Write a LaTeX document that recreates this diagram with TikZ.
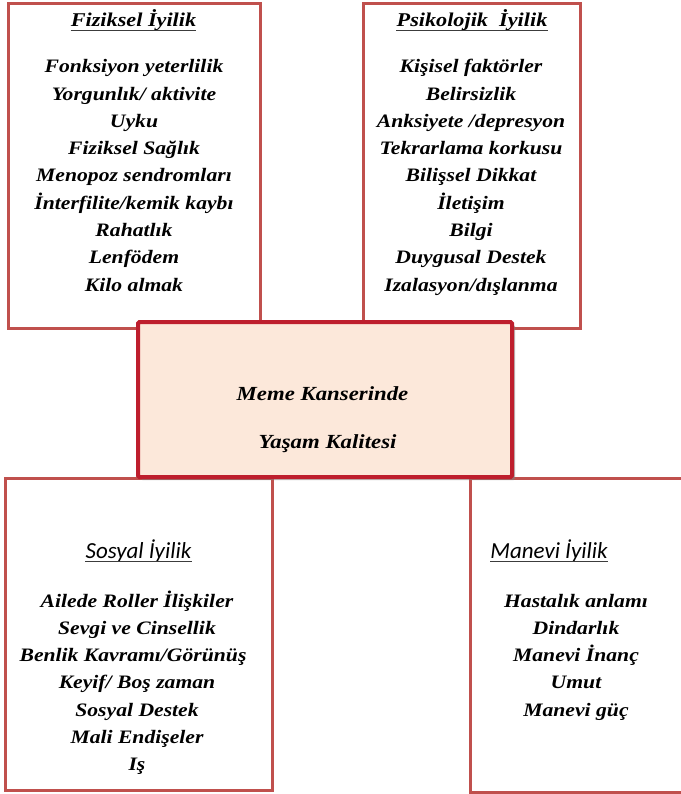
\documentclass[tikz,border=0pt]{standalone}
\usepackage{fontspec}
\setmainfont{Liberation Serif}[FakeStretch=1.14]
\newfontfamily\headsans{Carlito}
\usetikzlibrary{shadows}
\definecolor{boxred}{RGB}{192,80,77}
\definecolor{corered}{RGB}{190,30,45}
\definecolor{corefill}{RGB}{252,232,218}
\definecolor{ulgray}{RGB}{60,60,60}
\tikzset{
  outerbox/.style={draw=boxred,line width=3pt,inner sep=0pt},
  corebox/.style={draw=corered,line width=4pt,fill=corefill,inner sep=0pt,rounded corners=1.5pt,
    drop shadow={shadow xshift=3pt,shadow yshift=-3pt,opacity=0.55}},
  item/.style={font=\fontsize{19}{23}\selectfont\bfseries\itshape,inner sep=0pt,anchor=base},
  serifhead/.style={font=\fontsize{19.5}{23}\selectfont\bfseries\itshape,inner sep=0pt,anchor=base},
  sanshead/.style={font=\fontsize{23}{27}\headsans\itshape,inner sep=0pt,anchor=base},
  corelabel/.style={font=\fontsize{20}{24}\selectfont\bfseries\itshape,inner sep=0pt,anchor=base},
  headline/.style={draw=ulgray,line width=1.3pt}
}
\begin{document}
\begin{tikzpicture}[x=1pt,y=-1pt]
\useasboundingbox (0,0) rectangle (680,794);
\node[outerbox,minimum width=252pt,minimum height=324pt] (fizbox) at (134,166) {};
\node[outerbox,minimum width=217pt,minimum height=324pt] (psibox) at (471.5,166) {};
\node[outerbox,minimum width=267pt,minimum height=312pt] (sosbox) at (138.5,634) {};
\node[outerbox,minimum width=230pt,minimum height=314pt] (manbox) at (585,635) {};
\node[corebox,minimum width=374pt,minimum height=155pt] (core) at (325,399.5) {};

% Fiziksel
\path (133.5,27) node[serifhead] (fizhead) {Fiziksel İyilik};
\draw[headline] ([yshift=-3.5pt]fizhead.base west) -- ([yshift=-3.5pt]fizhead.base east);
\path (134,73) node[item] (fiz1) {Fonksiyon yeterlilik};
\path (134,100.25) node[item] (fiz2) {Yorgunlık/ aktivite};
\path (134,127.5) node[item] (fiz3) {Uyku};
\path (134,154.75) node[item] (fiz4) {Fiziksel Sağlık};
\path (134,182) node[item] (fiz5) {Menopoz sendromları};
\path (134,209.25) node[item] (fiz6) {İnterfilite/kemik kaybı};
\path (134,236.5) node[item] (fiz7) {Rahatlık};
\path (134,263.75) node[item] (fiz8) {Lenfödem};
\path (134,291) node[item] (fiz9) {Kilo almak};

% Psikolojik
\path (472,27) node[serifhead] (psihead) {Psikolojik~ İyilik};
\draw[headline] ([yshift=-3.5pt]psihead.base west) -- ([yshift=-3.5pt]psihead.base east);
\path (471,73) node[item] (psi1) {Kişisel faktörler};
\path (471,100.25) node[item] (psi2) {Belirsizlik};
\path (471,127.5) node[item] (psi3) {Anksiyete /depresyon};
\path (471,154.75) node[item] (psi4) {Tekrarlama korkusu};
\path (471,182) node[item] (psi5) {Bilişsel Dikkat};
\path (471,209.25) node[item] (psi6) {İletişim};
\path (471,236.5) node[item] (psi7) {Bilgi};
\path (471,263.75) node[item] (psi8) {Duygusal Destek};
\path (471,291) node[item] (psi9) {Izalasyon/dışlanma};

% merkez
\path (322.5,400) node[corelabel] (core1) {Meme Kanserinde};
\path (327.5,448) node[corelabel] (core2) {Yaşam Kalitesi};

% Sosyal
\path (138.5,558) node[sanshead] (soshead) {Sosyal İyilik};
\draw[headline] ([yshift=-3.5pt]soshead.base west) -- ([yshift=-3.5pt]soshead.base east);
\path (137,607) node[item] (sos1) {Ailede Roller İlişkiler};
\path (137,634.3) node[item] (sos2) {Sevgi ve Cinsellik};
\path (133,661.6) node[item] (sos3) {Benlik Kavramı/Görünüş};
\path (137,688.9) node[item] (sos4) {Keyif/ Boş zaman};
\path (137,716.2) node[item] (sos5) {Sosyal Destek};
\path (137,743.5) node[item] (sos6) {Mali Endişeler};
\path (137,770.8) node[item] (sos7) {Iş};

% Manevi
\path (549,558) node[sanshead] (manhead) {Manevi İyilik};
\draw[headline] ([yshift=-3.5pt]manhead.base west) -- ([yshift=-3.5pt]manhead.base east);
\path (576,607) node[item] (man1) {Hastalık anlamı};
\path (576,634.3) node[item] (man2) {Dindarlık};
\path (576,661.6) node[item] (man3) {Manevi İnanç};
\path (576,688.9) node[item] (man4) {Umut};
\path (576,716.2) node[item] (man5) {Manevi güç};

\end{tikzpicture}
\end{document}
